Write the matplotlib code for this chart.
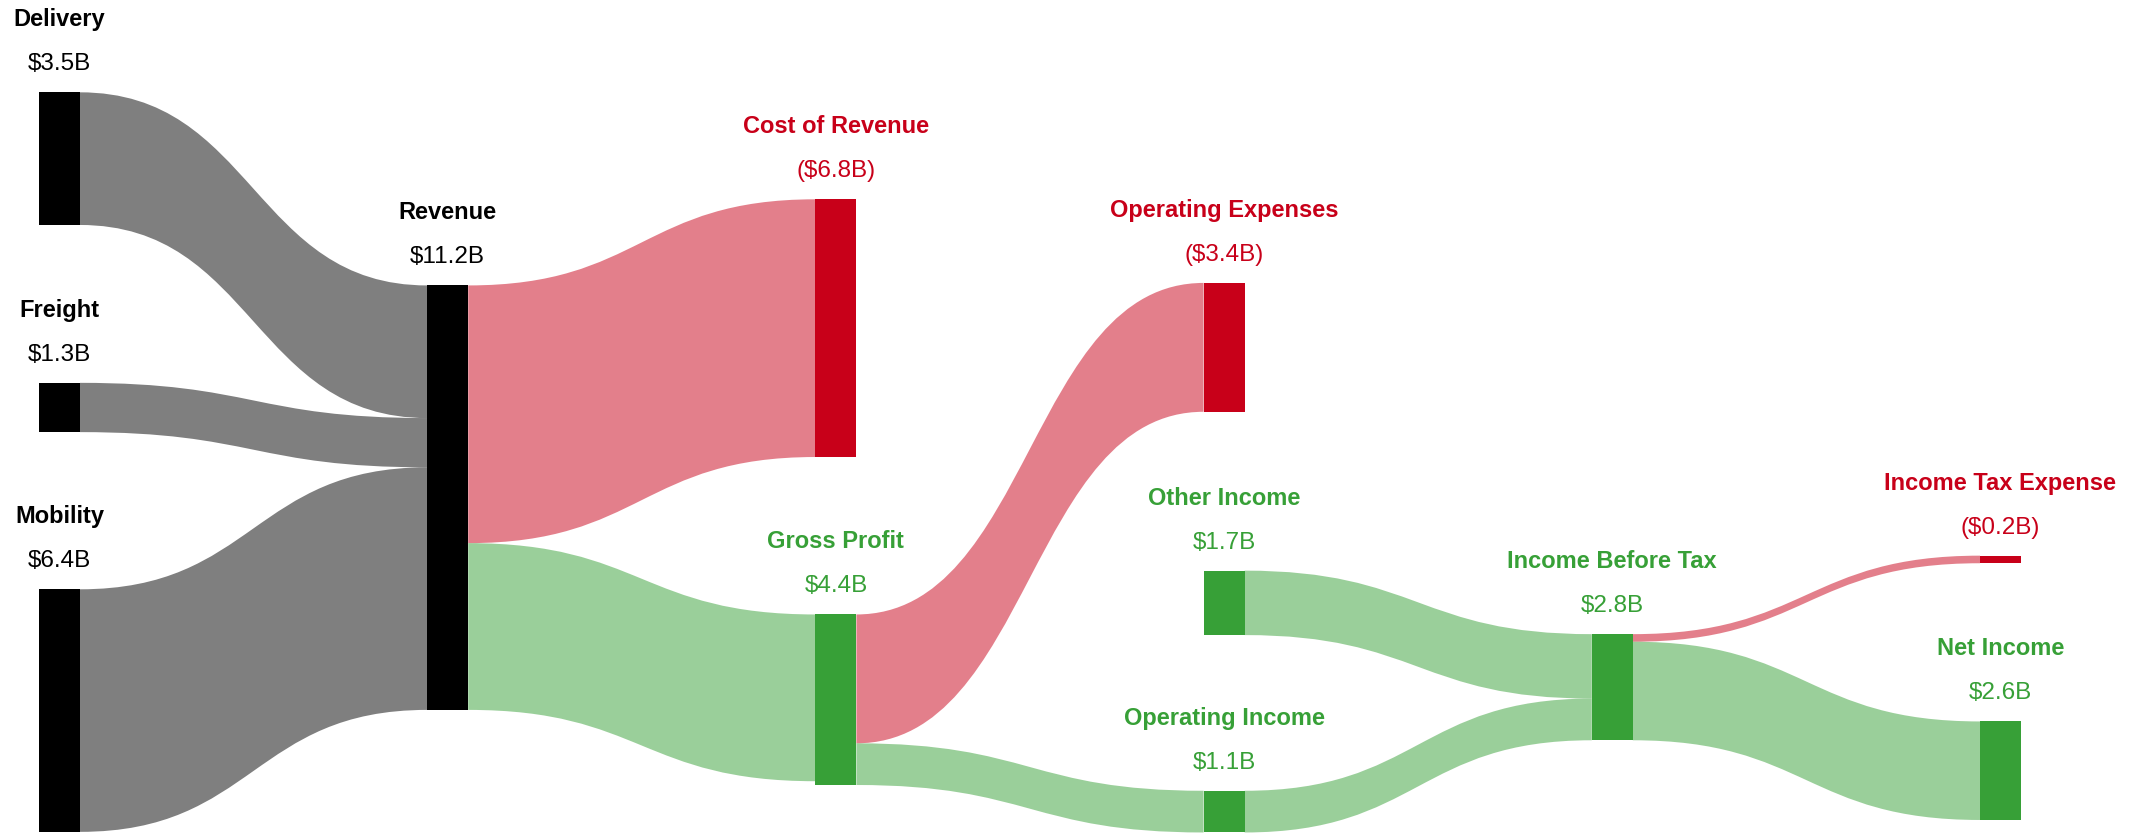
import matplotlib.pyplot as plt
from matplotlib.path import Path
from matplotlib.patches import PathPatch, Rectangle

# Nodes of the income statement flow (values in $B)
node_names = ['Delivery', 'Freight', 'Mobility', 'Revenue', 'Cost of Revenue', 'Gross Profit',
              'Operating Expenses', 'Other Income', 'Operating Income', 'Income Before Tax',
              'Income Tax Expense', 'Net Income']
node_values = [3.5, 1.3, 6.4, 11.2, -6.8, 4.4, -3.4, 1.7, 1.1, 2.8, -0.2, 2.6]
node_kind = ['segment', 'segment', 'segment', 'segment', 'cost', 'profit',
             'cost', 'profit', 'profit', 'profit', 'cost', 'profit']

# Flows between nodes
link_source = [0, 1, 2, 3, 3, 5, 5, 7, 8, 9, 9]
link_target = [3, 3, 3, 4, 5, 6, 8, 9, 9, 10, 11]
link_value = [3.5, 1.3, 6.4, 6.8, 4.4, 3.4, 1.1, 1.7, 1.1, 0.2, 2.6]

# Layout: column of each node and vertical centre as a fraction of the height
node_col = [0, 0, 0, 1, 2, 2, 3, 3, 3, 4, 5, 5]
node_yc = [0.190, 0.488, 0.851, 0.596, 0.393, 0.838, 0.416, 0.722, 0.972, 0.823, 0.670, 0.923]

W, H = 2149, 835
SCALE = 37.9          # pixels per $B
COL_X0 = 39
COL_STEP = 388.2
NODE_W = 41

colors = {'segment': '#000000', 'cost': '#C80019', 'profit': '#37A037'}
plt.rcParams['font.family'] = ['Liberation Sans', 'DejaVu Sans']


def fmt(v):
    if v < 0:
        return '(${:.1f}B)'.format(-v)
    return '${:.1f}B'.format(v)


def main():
    fig = plt.figure(figsize=(W / 100, H / 100), dpi=100)
    ax = fig.add_axes([0, 0, 1, 1])
    ax.set_xlim(0, W)
    ax.set_ylim(H, 0)
    ax.axis('off')

    n = len(node_names)
    inflow = [0.0] * n
    outflow = [0.0] * n
    for s, t, v in zip(link_source, link_target, link_value):
        outflow[s] += v
        inflow[t] += v

    heights = [max(inflow[i], outflow[i]) * SCALE for i in range(n)]
    tops = [node_yc[i] * H - heights[i] / 2 for i in range(n)]
    lefts = [COL_X0 + node_col[i] * COL_STEP for i in range(n)]

    # links
    out_off = list(tops)
    in_off = list(tops)
    for s, t, v in zip(link_source, link_target, link_value):
        w = v * SCALE
        x0 = lefts[s] + NODE_W
        x1 = lefts[t]
        xm = (x0 + x1) / 2
        ys, yt = out_off[s], in_off[t]
        out_off[s] += w
        in_off[t] += w
        verts = [(x0, ys), (xm, ys), (xm, yt), (x1, yt),
                 (x1, yt + w),
                 (xm, yt + w), (xm, ys + w), (x0, ys + w),
                 (x0, ys)]
        codes = [Path.MOVETO, Path.CURVE4, Path.CURVE4, Path.CURVE4,
                 Path.LINETO,
                 Path.CURVE4, Path.CURVE4, Path.CURVE4,
                 Path.CLOSEPOLY]
        ax.add_patch(PathPatch(Path(verts, codes), facecolor=colors[node_kind[t]],
                               alpha=0.5, edgecolor='none', lw=0))

    # nodes and labels
    for i in range(n):
        c = colors[node_kind[i]]
        ax.add_patch(Rectangle((lefts[i], tops[i]), NODE_W, heights[i],
                               facecolor=c, edgecolor='none', zorder=3))
        xc = lefts[i] + NODE_W / 2
        ax.text(xc, tops[i] - 66, node_names[i], ha='center', va='baseline',
                fontsize=17, fontweight='bold', color=c)
        ax.text(xc, tops[i] - 22, fmt(node_values[i]), ha='center', va='baseline',
                fontsize=17.5, color=c)

    fig.savefig('out.png', dpi=100)


if __name__ == "__main__":
    main()
